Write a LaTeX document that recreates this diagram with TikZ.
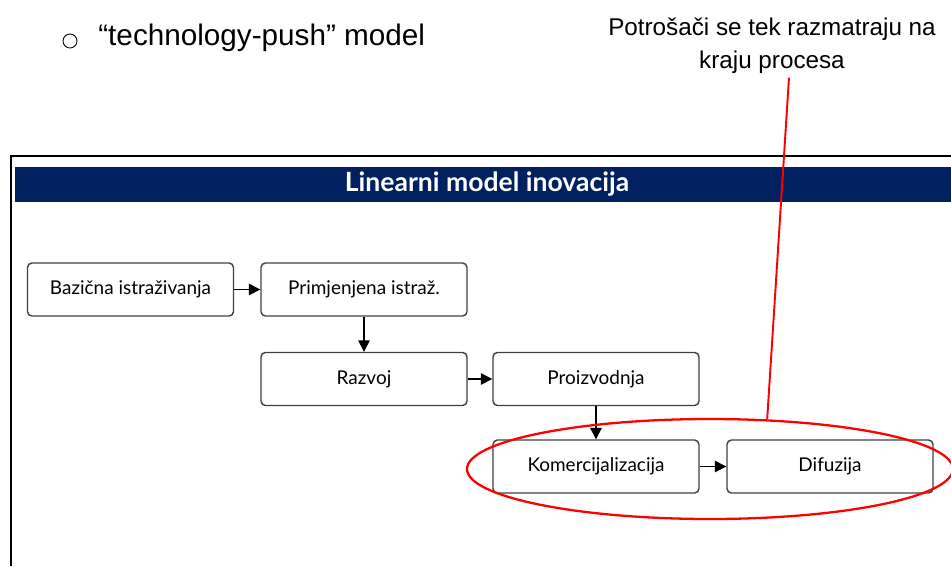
\documentclass[tikz,border=0pt]{standalone}
\usepackage{fontspec}
\setmainfont{Liberation Sans}
\newfontfamily\boxfont{Lato}
\usetikzlibrary{arrows.meta,shapes.geometric}
\definecolor{tamnoplava}{RGB}{0,32,96}

\begin{document}
\begin{tikzpicture}[x=0.02cm, y=-0.02cm,
	korak/.style={draw=black!75, line width=0.8pt, rounded corners=2.5pt,
		minimum width=4.12cm, minimum height=1.06cm, text=black,
		font=\boxfont\fontsize{10.8}{13}\selectfont},
	strelica/.style={-{Triangle[length=6.5pt, width=6.5pt]}, line width=0.8pt}]
\useasboundingbox (0,0) rectangle (951,566);

% bullet and heading
\draw[line width=0.5pt] (70,41) circle [radius=0.14cm];
\node[anchor=west, font=\fontsize{16.9}{20}\selectfont, inner sep=0pt] (model) at (98,38) {``technology-push'' model};

% frame and banner
\draw[line width=1.2pt] (11,566) -- (11,156) -- (951,156);
\fill[tamnoplava] (15,167) rectangle (951,202);
\node[text=white, font=\boxfont\bfseries\fontsize{15.1}{18}\selectfont] (naslov) at (487,184) {Linearni model inovacija};

% steps
\node[korak] (bazicna) at (130.5,289.5) {Bazična istraživanja};
\node[korak] (primjenjena) at (364,289.5) {Primjenjena istraž.};
\node[korak] (razvoj) at (364,379) {Razvoj};
\node[korak] (proizvodnja) at (596,379) {Proizvodnja};
\node[korak] (komerc) at (596,466.5) {Komercijalizacija};
\node[korak] (difuzija) at (830,466.5) {Difuzija};

\draw[strelica] (bazicna) -- (primjenjena);
\draw[strelica] (primjenjena) -- (razvoj);
\draw[strelica] (razvoj) -- (proizvodnja);
\draw[strelica] (proizvodnja) -- (komerc);
\draw[strelica] (komerc) -- (difuzija);

% remark
\node[draw=red, line width=1.3pt, ellipse, minimum width=9.72cm, minimum height=2cm, inner sep=0pt] (krug) at (710,469) {};
\node[align=center, font=\fontsize{13.8}{18.7}\selectfont, inner sep=2pt] (napomena) at (772,46) {Potrošači se tek razmatraju na\\kraju procesa};
\draw[red, line width=1.1pt] (krug.41) -- ([xshift=0.34cm]napomena.south);
\end{tikzpicture}
\end{document}
